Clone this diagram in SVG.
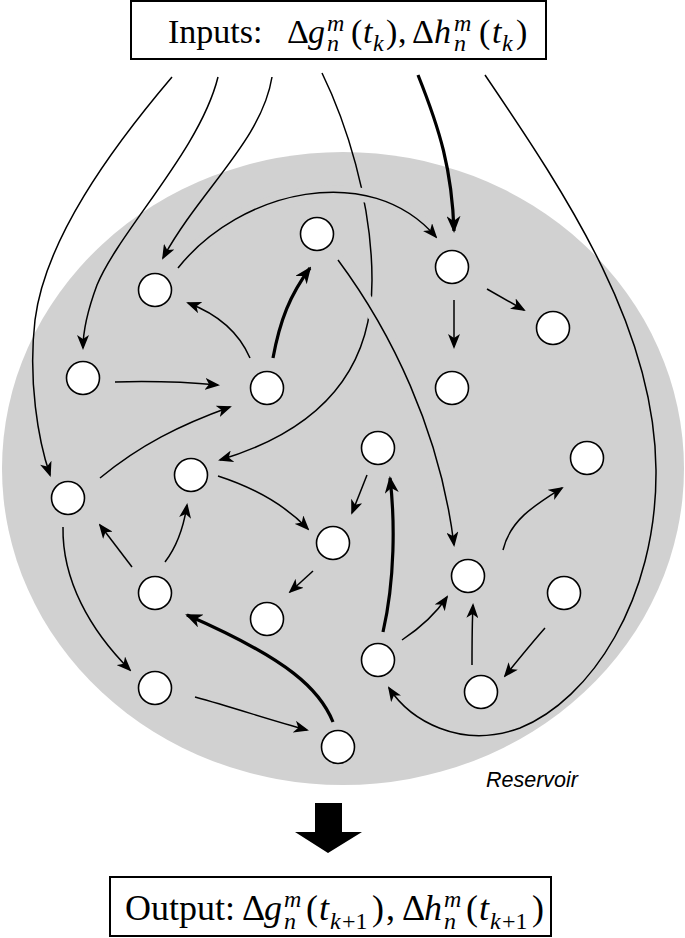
<svg xmlns="http://www.w3.org/2000/svg" width="685" height="938" viewBox="0 0 685 938">
<style>
.e{fill:none;stroke:#000;stroke-width:1.5;marker-end:url(#ah)}
.t{fill:none;stroke:#000;stroke-width:3.2;marker-end:url(#ahb)}
.halo{fill:none;stroke:#d1d1d1;stroke-width:14}
.n{fill:#fff;stroke:#000;stroke-width:1.6}
.box{fill:#fff;stroke:#000;stroke-width:2}
.tx{font-family:"Liberation Serif","Times New Roman",serif;font-size:34px;fill:#000}
.tb{font-size:36px}
.i{font-style:italic}
.s{font-size:24px}
</style>
<defs>
<marker id="ah" markerUnits="userSpaceOnUse" markerWidth="15" markerHeight="12" viewBox="0 0 15 12" refX="13" refY="6" orient="auto">
<path d="M0,0 L15,6 L0,12 L4,6 z" fill="#000"/>
</marker>
<marker id="ahb" markerUnits="userSpaceOnUse" markerWidth="17" markerHeight="14" viewBox="0 0 17 14" refX="15" refY="7" orient="auto">
<path d="M0,0 L17,7 L0,14 L5,7 z" fill="#000"/>
</marker>
</defs>
<ellipse id="reservoir" cx="343" cy="468.5" rx="341" ry="316.5" fill="#d1d1d1"/>
<text x="486" y="787" font-family="Liberation Sans, Arial, sans-serif" font-size="21.5" font-style="italic" fill="#000">Reservoir</text>

<g id="connectors">
<path class="e" d="M322,73 C345,120 372,200 372,280 C372,370 320,430 220,460"/>
<path class="e" d="M172,77 C110,150 45,240 35,320 C28,380 38,440 50,475"/>
<path class="e" d="M218,77 C200,150 120,230 97,285 C87,312 83,330 83,348"/>
<path class="e" d="M272,77 C262,140 200,190 163,258"/>
<path class="t" d="M418,75 C440,130 452,170 454,231"/>
<path class="e" d="M485,75 C570,200 655,330 656,470 C657,600 590,700 520,728 C460,750 410,720 389,688"/>
<path class="halo" d="M178,268 C240,190 370,160 436,237"/>
<path class="e" d="M178,268 C240,190 370,160 436,237"/>
<path class="halo" d="M338,260 C390,330 440,430 454,545"/>
<path class="e" d="M338,260 C390,330 440,430 454,545"/>
<path class="t" d="M273,358 C280,320 290,295 310,268"/>
<path class="e" d="M250,358 C240,335 220,315 188,303"/>
<path class="e" d="M115,382 C150,381 185,382 218,385"/>
<path class="e" d="M100,478 C140,445 180,425 230,407"/>
<path class="e" d="M218,476 C255,488 285,505 308,529"/>
<path class="e" d="M313,571 L290,592"/>
<path class="e" d="M132,567 L100,525"/>
<path class="e" d="M165,562 C178,545 184,525 187,505"/>
<path class="e" d="M63,527 C62,580 90,630 130,670"/>
<path class="e" d="M195,697 C235,708 270,720 307,730"/>
<path class="t" d="M333,722 C320,690 290,660 187,615"/>
<path class="t" d="M383,632 C395,580 395,520 390,478"/>
<path class="e" d="M367,475 L352,513"/>
<path class="e" d="M402,640 C420,628 435,615 447,597"/>
<path class="e" d="M472,665 C472,640 472,625 473,605"/>
<path class="e" d="M545,628 C530,645 518,660 505,676"/>
<path class="e" d="M503,550 C510,520 535,505 562,488"/>
<path class="e" d="M454,300 L454,347"/>
<path class="e" d="M487,289 L524,310"/>
</g>

<g id="n1"><circle class="n" cx="155" cy="290" r="16.5"/></g>
<g id="n2"><circle class="n" cx="317" cy="234" r="16.5"/></g>
<g id="n3"><circle class="n" cx="452" cy="267" r="16.5"/></g>
<g id="n4"><circle class="n" cx="553" cy="328" r="16.5"/></g>
<g id="n5"><circle class="n" cx="83" cy="378" r="16.5"/></g>
<g id="n6"><circle class="n" cx="267" cy="388" r="16.5"/></g>
<g id="n7"><circle class="n" cx="191" cy="475" r="16.5"/></g>
<g id="n8"><circle class="n" cx="68" cy="498" r="16.5"/></g>
<g id="n9"><circle class="n" cx="333" cy="543" r="16.5"/></g>
<g id="n10"><circle class="n" cx="155" cy="593" r="16.5"/></g>
<g id="n11"><circle class="n" cx="267" cy="619" r="16.5"/></g>
<g id="n12"><circle class="n" cx="452" cy="388" r="16.5"/></g>
<g id="n13"><circle class="n" cx="378" cy="448" r="16.5"/></g>
<g id="n14"><circle class="n" cx="587" cy="458" r="16.5"/></g>
<g id="n15"><circle class="n" cx="468" cy="576" r="16.5"/></g>
<g id="n16"><circle class="n" cx="564" cy="593" r="16.5"/></g>
<g id="n17"><circle class="n" cx="155" cy="688" r="16.5"/></g>
<g id="n18"><circle class="n" cx="338" cy="747" r="16.5"/></g>
<g id="n19"><circle class="n" cx="378" cy="660" r="16.5"/></g>
<g id="n20"><circle class="n" cx="481" cy="692" r="16.5"/></g>

<g id="inputs">
<rect class="box" x="131" y="1" width="415" height="58"/>
<text class="tx" y="43"><tspan x="168">Inputs:</tspan><tspan x="287">Δ</tspan><tspan class="i" x="308">g</tspan><tspan class="i s" x="327" y="31">m</tspan><tspan class="i s" x="327" y="51">n</tspan><tspan x="351" y="43">(</tspan><tspan class="i" x="363">t</tspan><tspan class="i s" x="373" y="51">k</tspan><tspan x="386" y="43">)</tspan><tspan x="398">,</tspan><tspan x="412">Δ</tspan><tspan class="i" x="434">h</tspan><tspan class="i s" x="454" y="31">m</tspan><tspan class="i s" x="454" y="51">n</tspan><tspan x="479" y="43">(</tspan><tspan class="i" x="492">t</tspan><tspan class="i s" x="502" y="51">k</tspan><tspan x="516" y="43">)</tspan></text>
</g>

<g id="arrow">
<path d="M315,803 H342 V832 H362 L328,853 L295,832 H315 Z" fill="#000"/>
</g>

<g id="output">
<rect class="box" x="110" y="877" width="441" height="59"/>
<text class="tx tb" y="920"><tspan x="125">Output:</tspan><tspan x="242">Δ</tspan><tspan class="i" x="264">g</tspan><tspan class="i s" x="284" y="907">m</tspan><tspan class="i s" x="284" y="929">n</tspan><tspan x="306" y="920">(</tspan><tspan class="i" x="319">t</tspan><tspan class="i s" x="330" y="929">k</tspan><tspan class="s" x="342" y="929">+1</tspan><tspan x="372" y="920">)</tspan><tspan x="386">,</tspan><tspan x="402">Δ</tspan><tspan class="i" x="424">h</tspan><tspan class="i s" x="444" y="907">m</tspan><tspan class="i s" x="444" y="929">n</tspan><tspan x="466" y="920">(</tspan><tspan class="i" x="479">t</tspan><tspan class="i s" x="490" y="929">k</tspan><tspan class="s" x="502" y="929">+1</tspan><tspan x="532" y="920">)</tspan></text>
</g>
</svg>
